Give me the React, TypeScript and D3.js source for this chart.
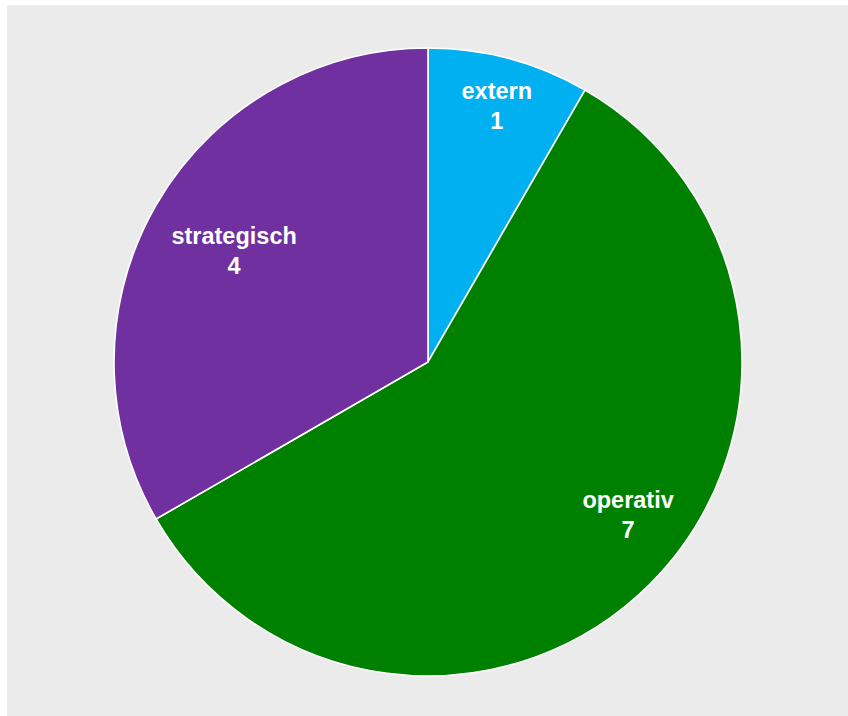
import React from "react";
import * as d3 from "d3";

const categories = ["extern", "operativ", "strategisch"];
const values = [1, 7, 4];
const colors = ["#00B0F0", "#008000", "#7030A0"];

const W = 848;
const H = 716;
const cx = 428;
const cy = 362;
const R = 314;
// label placement (fraction of radius, angle shift in degrees)
const labelDist = [0.847, 0.8, 0.713];
const labelShift = [0, -7.8, 0];

export default function App() {
  const pie = d3
    .pie<number>()
    .sort(null)
    .value((d) => d)(values);
  const arc = d3.arc<d3.PieArcDatum<number>>().innerRadius(0).outerRadius(R);
  const fs = 23.5;
  return (
    <svg
      width={W}
      height={H}
      style={{ position: "absolute", left: 0, top: 0 }}
      fontFamily="'Liberation Sans', Arial, sans-serif"
    >
      <rect x={7} y={5} width={W - 7} height={H - 5} fill="#EBEBEB" />
      <g transform={`translate(${cx},${cy})`}>
        {pie.map((p, i) => (
          <path key={i} d={arc(p) || ""} fill={colors[i]} stroke="#ffffff" strokeWidth={1.6} />
        ))}
        {pie.map((p, i) => {
          const a = (p.startAngle + p.endAngle) / 2 + (labelShift[i] * Math.PI) / 180;
          const r = labelDist[i] * R;
          const x = Math.sin(a) * r;
          const y = -Math.cos(a) * r;
          return (
            <text
              key={"t" + i}
              x={x}
              y={y}
              fill="#ffffff"
              fontWeight="bold"
              fontSize={fs}
              textAnchor="middle"
            >
              <tspan x={x} dy={-6}>{categories[i]}</tspan>
              <tspan x={x} dy={30}>{values[i]}</tspan>
            </text>
          );
        })}
      </g>
    </svg>
  );
}
